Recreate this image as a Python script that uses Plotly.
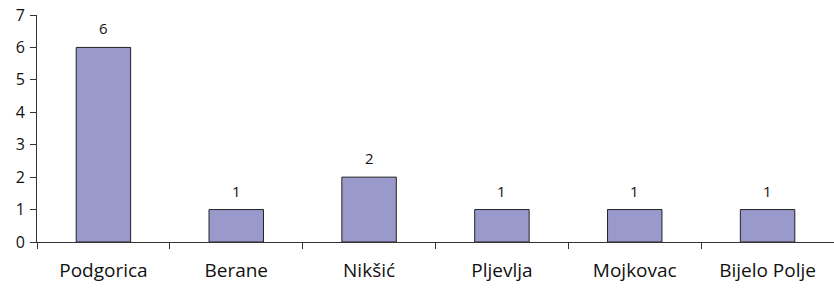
import plotly.graph_objects as go

categories = ["Podgorica", "Berane", "Nikšić", "Pljevlja", "Mojkovac", "Bijelo Polje"]
values = [6, 1, 2, 1, 1, 1]
y_ticks = [0, 1, 2, 3, 4, 5, 6, 7]

FONT = "Open Sans, Liberation Sans, sans-serif"

fig = go.Figure()
fig.add_trace(go.Bar(
    x=categories, y=values,
    marker=dict(color="#9999CC", line=dict(color="#222222", width=1)),
    width=0.41,
    hoverinfo="x+y",
))

for c, v in zip(categories, values):
    fig.add_annotation(x=c, y=v, text=str(v), showarrow=False,
                       yshift=19, font=dict(family=FONT, size=15, color="#111111"))

fig.update_layout(
    width=834, height=289,
    margin=dict(l=37, r=0, t=15, b=47),
    paper_bgcolor="white", plot_bgcolor="white",
    showlegend=False,
    bargap=0.59,
    font=dict(family=FONT, color="#111111"),
)
fig.update_xaxes(
    automargin=False,
    showline=True, linecolor="#333333", linewidth=1,
    ticks="outside", tickson="boundaries", ticklen=6, tickcolor="#333333",
    tickfont=dict(size=19, family=FONT, color="#111111"),
    ticklabelstandoff=11,
    showgrid=False, zeroline=False,
)
fig.update_yaxes(
    automargin=False,
    range=[0, 7], tickvals=y_ticks,
    showline=True, linecolor="#333333", linewidth=1,
    ticks="outside", ticklen=6, tickcolor="#333333",
    tickfont=dict(size=16, family=FONT, color="#111111"),
    ticklabelstandoff=2,
    showgrid=False, zeroline=False,
)

fig.write_html(
    "out.html",
    config={"displayModeBar": False},
    post_script="document.body.style.margin='0';document.body.style.overflow='hidden';",
)
